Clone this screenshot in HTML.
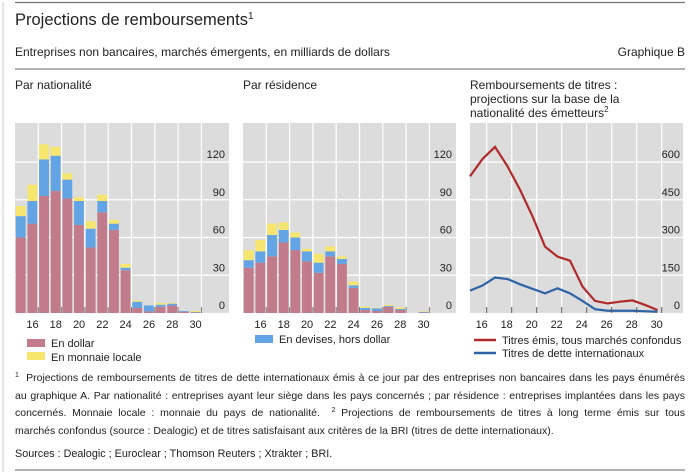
<!DOCTYPE html>
<html><head><meta charset="utf-8"><style>
body{margin:0;width:700px;height:475px;background:#fff;font-family:"Liberation Sans",sans-serif;position:relative;overflow:hidden}
svg{position:absolute;left:0;top:0}
#fn{position:absolute;left:15px;top:370px;width:670px;font-size:10.5px;line-height:17.5px;color:#222}
#fn div{white-space:nowrap;text-align:justify;text-align-last:justify}
#fn div.last{text-align-last:left}
#fn sup{font-size:7px;line-height:0;vertical-align:0;position:relative;top:-4px}
#src{position:absolute;left:15px;top:448px;font-size:10.8px;color:#222}
</style></head><body>
<svg id="s" width="700" height="475">
<line x1="3" y1="2" x2="3" y2="472" stroke="#ccc"/>
<line x1="15" y1="2.5" x2="685" y2="2.5" stroke="#777" stroke-width="1.2"/>
<line x1="15" y1="69" x2="685" y2="69" stroke="#999" stroke-width="1.5"/>
<line x1="15" y1="470" x2="685" y2="470" stroke="#999" stroke-width="1.5"/>
<text x="15" y="25" font-size="16.5" fill="#222">Projections de remboursements<tspan font-size="10" dy="-6">1</tspan></text>
<text x="15" y="56" font-size="12" fill="#222">Entreprises non bancaires, marchés émergents, en milliards de dollars</text>
<text x="685" y="56" font-size="12" fill="#222" text-anchor="end">Graphique B</text>
<text x="15" y="89" font-size="12" fill="#222">Par nationalité</text>
<text x="243" y="89" font-size="12" fill="#222">Par résidence</text>
<text x="470" y="89" font-size="12" fill="#222">Remboursements de titres :</text>
<text x="470" y="103" font-size="12" fill="#222">projections sur la base de la</text>
<text x="470" y="117" font-size="12" fill="#222">nationalité des émetteurs<tspan font-size="8" dy="-5">2</tspan></text>
<g id="g1"></g>
<g id="g2"></g>
<g id="g3"></g>
<g font-size="11" fill="#222">
<rect x="27" y="339" width="18" height="8" fill="#c17b8a"/><text x="51" y="347">En dollar</text>
<rect x="27" y="352" width="18" height="8" fill="#f7e66e"/><text x="51" y="361">En monnaie locale</text>
<rect x="255" y="335" width="18" height="8" fill="#62a4e4"/><text x="279" y="343">En devises, hors dollar</text>
<line x1="474" y1="340" x2="496" y2="340" stroke="#b02a2a" stroke-width="2.5"/><text x="502" y="344">Titres émis, tous marchés confondus</text>
<line x1="474" y1="353" x2="496" y2="353" stroke="#2f63a6" stroke-width="2.5"/><text x="502" y="357">Titres de dette internationaux</text>
</g>
</svg>
<div id="fn">
<div><sup>1</sup>&nbsp; Projections de remboursements de titres de dette internationaux émis à ce jour par des entreprises non bancaires dans les pays énumérés</div>
<div>au graphique A. Par nationalité : entreprises ayant leur siège dans les pays concernés ; par résidence : entreprises implantées dans les pays</div>
<div>concernés. Monnaie locale : monnaie du pays de nationalité.&nbsp; <sup>2</sup>&nbsp;Projections de remboursements de titres à long terme émis sur tous</div>
<div class="last">marchés confondus (source : Dealogic) et de titres satisfaisant aux critères de la BRI (titres de dette internationaux).</div>
</div>
<div id="src">Sources : Dealogic ; Euroclear ; Thomson Reuters ; Xtrakter ; BRI.</div>
<script>
const years=[15,16,17,18,19,20,21,22,23,24,25,26,27,28,29,30];
const natDollar=[60,71,93,97,91,70,52,80,66,34,4,1.3,5,6,1,0.5];
const natOther=[17,18,29,28,15,19,15,9,5,2,5,4.7,1.6,1.4,0.6,0.3];
const natLocal=[8,13,12,7,5,3,6,5,3,3,1,0,1.4,0.6,0,0.8];
const resDollar=[36,40,45,56,50,41,32,45,39,20,2.4,1.6,5,2.4,0,0.4];
const resOther=[6,9,17,10,10,8,8,4,4,2,1.6,2.1,0.6,0.8,0,0.5];
const resLocal=[8,9,9,6,4,2,7,4,2,3,1,0.3,0.8,1.1,0,0.4];
const lineYears=[15,16,17,18,19,20,21,22,23,24,25,26,27,28,29,30];
const allMarkets=[543,612,660,583,490,384,264,224,208,105,48,38,45,50,32,12];
const intlDebt=[89,109,141,135,114,96,78,98,78,48,15,9,9,9,7,5];
const barTicks=[0,30,60,90,120];
const lineTicks=[0,150,300,450,600];
const xLabels=[16,18,20,22,24,26,28,30];
const NS="http://www.w3.org/2000/svg";
const TOP=123,ZERO=313;
function mk(g,t,a){const e=document.createElementNS(NS,t);for(const k in a)e.setAttribute(k,a[k]);g.appendChild(e);return e;}
function frame(g,x0,x1,ticks,ymax){
  const y=v=>ZERO-v/ymax*(ZERO-162);
  mk(g,'rect',{x:x0,y:TOP,width:x1-x0,height:ZERO-TOP,fill:'#dcdcdc'});
  ticks.forEach(t=>{if(t>0)mk(g,'line',{x1:x0,x2:x1,y1:y(t),y2:y(t),stroke:'#fff','stroke-width':1.2});});
  mk(g,'line',{x1:x0,x2:x1,y1:ZERO+0.5,y2:ZERO+0.5,stroke:'#fff','stroke-width':1.2});
  return y;
}
function yLabels(g,x1,ticks,y){
  ticks.forEach(t=>{const tx=mk(g,'text',{x:x1-4,y:y(t)-4,'font-size':11,'text-anchor':'end',fill:'#222'});tx.textContent=t;
    
    });
}
function bars(id,x0,x1,d,o,l){
  const g=document.getElementById(id);
  const y=frame(g,x0,x1,barTicks,120);
  const slot=11.65,x=yr=>x0+(yr-15)*slot;
  for(let yr=17;yr<=31;yr+=2)mk(g,'line',{x1:x(yr),x2:x(yr),y1:TOP,y2:ZERO,stroke:'#fff','stroke-width':1.2});
  years.forEach((yr,i)=>{
    let base=0;[[d,'#c17b8a'],[o,'#62a4e4'],[l,'#f7e66e']].forEach(([arr,c])=>{
      const v=arr[i];if(v>0){const r=mk(g,'rect',{x:x(yr)+0.8,y:y(base+v),width:slot-1.8,height:y(base)-y(base+v),fill:c});
      
      }base+=v;});
  });
  yLabels(g,x1,barTicks,y);
  for(let yr=17;yr<=31;yr+=2)mk(g,'line',{x1:x(yr),x2:x(yr),y1:ZERO-6,y2:ZERO,stroke:'#777','stroke-width':1});
  xLabels.forEach(v=>{const t=mk(g,'text',{x:x(v)+slot/2,y:ZERO+15,'font-size':11,'text-anchor':'middle',fill:'#222'});t.textContent=v;
    
    });
}
bars('g1',15,229,natDollar,natOther,natLocal);
bars('g2',243,456,resDollar,resOther,resLocal);
(function(){
  const g=document.getElementById('g3');const x0=470,x1=683;
  const y=frame(g,x0,x1,lineTicks,600);
  const x=yr=>x0+(yr-15)*12.5;
  for(let k=0;k<8;k++){const xx=x0+16.7+25*k;mk(g,'line',{x1:xx,x2:xx,y1:TOP,y2:ZERO,stroke:'#fff','stroke-width':1.2});}
  [[allMarkets,'#b02a2a','line-all-markets'],[intlDebt,'#2f63a6','line-intl-debt']].forEach(([arr,c,n])=>{
    const p=mk(g,'polyline',{points:arr.map((v,i)=>x(lineYears[i])+','+y(v)).join(' '),fill:'none',stroke:c,'stroke-width':2.2});
    
    
  });
  yLabels(g,x1+1,lineTicks,y);
  for(let k=0;k<8;k++){const xx=x0+16.7+25*k;mk(g,'line',{x1:xx,x2:xx,y1:ZERO-6,y2:ZERO,stroke:'#555','stroke-width':1});}
  xLabels.forEach((v,k)=>{const t=mk(g,'text',{x:x0+11.7+25*k,y:ZERO+15,'font-size':11,'text-anchor':'middle',fill:'#222'});t.textContent=v;
    
    });
})();
</script>
</body></html>
